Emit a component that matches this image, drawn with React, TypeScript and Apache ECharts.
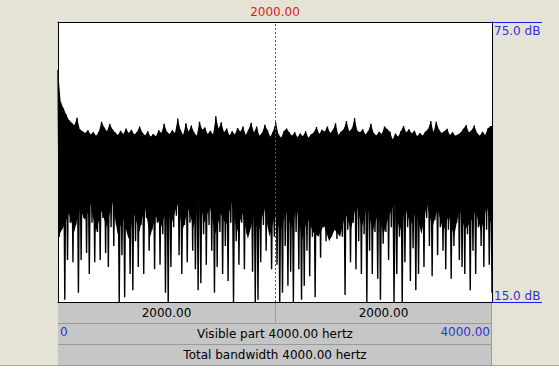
import { useEffect, useRef } from "react";
import * as echarts from "echarts";

// Spectrum: per narrow frequency bin, the peak level and the dip level (dB)
const peakDb = [
  64.7, 57.8, 56.5, 55.2, 54.0, 53.4, 52.9, 54.5, 52.0, 51.6,
  51.2, 51.8, 50.9, 51.4, 50.6, 51.5, 53.6, 52.4, 51.6, 53.2,
  52.0, 51.3, 50.8, 51.7, 51.0, 52.2, 51.2, 51.9, 50.9, 51.4,
  52.6, 51.3, 50.7, 51.6, 50.4, 51.0, 50.5, 51.8, 51.2, 53.2,
  51.5, 51.0, 51.8, 51.2, 54.3, 51.9, 50.8, 53.3, 51.5, 52.8,
  51.3, 50.6, 53.6, 51.9, 52.4, 51.0, 51.7, 50.9, 54.8, 52.1,
  53.5, 51.4, 52.2, 50.7, 51.6, 50.9, 52.3, 51.5, 52.6, 50.8,
  51.9, 53.4, 51.3, 52.6, 50.6, 51.2, 53.0, 51.8, 50.4, 51.5,
  53.5, 51.0, 50.2, 51.6, 52.2, 51.3, 50.6, 51.4, 50.3, 51.1,
  50.5, 51.6, 50.2, 50.9, 51.3, 52.5, 51.0, 51.9, 51.5, 52.6,
  51.2, 51.8, 53.3, 50.8, 51.5, 52.0, 53.8, 51.6, 52.1, 54.4,
  51.7, 51.4, 52.0, 50.9, 51.6, 53.2, 51.2, 50.7, 51.5, 51.0,
  52.6, 52.0, 51.5, 49.8, 51.1, 50.4, 51.6, 52.7, 51.3, 52.0,
  51.1, 51.7, 50.5, 51.2, 50.7, 51.5, 52.0, 53.8, 51.4, 53.6,
  51.9, 51.2, 51.6, 52.1, 50.8, 51.4, 50.6, 50.9, 51.3, 52.1,
  52.9, 51.3, 51.8, 52.8, 51.2, 50.6, 51.5, 50.8, 52.2, 52.7,
];
const dipDb = [
  29, 31, 15.5, 24, 32, 23.5, 31.5, 17, 24, 33,
  25.5, 21, 32, 23.5, 30, 24, 33, 25.5, 22.5, 31,
  27, 31.5, 15, 25, 16, 32.5, 21, 17.5, 28, 22.5,
  31.5, 21, 33, 26, 30.5, 22, 32, 23, 29.5, 17,
  15, 22.5, 31, 33.5, 25, 21, 31.5, 23.5, 32, 26,
  22, 17.5, 19, 29.5, 23, 31.5, 26, 17, 22.5, 30,
  21, 27, 19.5, 32, 15, 28, 23, 32, 22, 29.5,
  31, 21.5, 15, 15.5, 23.5, 31.5, 26, 32.5, 22, 29,
  23, 15, 17, 27, 18.5, 21.5, 15, 30, 22, 15.5,
  18.5, 26, 20.5, 29, 16, 30, 24.5, 31, 28, 32.5,
  29, 33, 28.5, 31.5, 29, 16.5, 30.5, 23.5, 32, 22,
  28, 21, 29.5, 15, 26, 21, 30, 20, 15.5, 27.5,
  30, 24, 31, 15, 21, 29, 15, 23.5, 31, 19.5,
  26.5, 17.5, 21, 32, 22.5, 33, 27, 20.5, 32.5, 25,
  31, 26, 22, 30.5, 20, 27, 32, 24, 22.5, 21,
  29.5, 17.5, 26, 21, 31, 27, 22.5, 30.5, 23, 17,
];
// Lower edge of the solid black mass, every 50 Hz (dB)
const floorDb = [
  29, 31, 34, 30, 35, 32.5, 36, 30, 34.5, 31, 36.5, 29.5, 33, 28.5, 34, 30, 35.5, 29, 33.5, 31, 35,
  32, 36, 30.5, 35, 31, 37, 32, 35.5, 29.5, 34, 31.5, 36.5, 30, 34, 28.5, 33, 30, 35, 29, 33.5,
  30, 34.5, 31, 35, 28.5, 33, 30, 29, 31.5, 28, 30.5, 29, 34, 30.5, 36, 31, 35.5, 30, 34, 29.5,
  33.5, 36, 30, 35, 31.5, 34.5, 29.5, 36, 31, 35, 30, 33.5, 29, 35, 30.5, 32, 34.5, 30, 35.5, 31,
];
const floorStepHz = 50;
const xRangeHz = [0, 4000];
const yRangeDb = [15, 75];
const xTickLabels = ["0", "4000.00"];
const yTickLabels = ["15.0 dB", "75.0 dB"];
const cursorHz = 2000;
const cursorLabel = "2000.00";
const leftPartLabel = "2000.00";
const rightPartLabel = "2000.00";
const visibleLabel = "Visible part 4000.00 hertz";
const totalLabel = "Total bandwidth 4000.00 hertz";

const FONT = "'DejaVu Sans', 'Liberation Sans', sans-serif";
const BG = "#e4e3d6";
const BAR = "#c6c6c6";
const BAR_EDGE = "#9a9a9a";
const BLUE_TEXT = "#3030d8";
const BLUE_LINE = "#1818f0";
const RED = "#e02020";

export default function App() {
  const ref = useRef<HTMLDivElement>(null);

  useEffect(() => {
    document.body.style.margin = "0";
    if (!ref.current) return;
    const chart = echarts.init(ref.current, undefined, { renderer: "svg" });

    const step = (xRangeHz[1] - xRangeHz[0]) / (peakDb.length - 0.5);
    const envelope = peakDb.map((v, i) => [xRangeHz[0] + i * step, v]);
    envelope.push([xRangeHz[1], peakDb[peakDb.length - 1]]);
    const zigzag: number[][] = [];
    peakDb.forEach((p, i) => {
      zigzag.push([xRangeHz[0] + i * step, p]);
      zigzag.push([xRangeHz[0] + (i + 0.5) * step, dipDb[i]]);
    });
    const floor = floorDb.map((v, i) => [xRangeHz[0] + i * floorStepHz, v]);

    const L = 58, T = 22, W = 434, H = 280;
    const R = L + W, B = T + H;

    const txt = (x: number, y: number, text: string, align = "center", color = "#000") => ({
      type: "text",
      z: 1,
      x,
      y,
      style: { text, fill: color, font: `12px ${FONT}`, textAlign: align, textVerticalAlign: "middle" },
    });
    const hline = (x1: number, x2: number, y: number, color: string) => ({
      type: "line",
      z: 1,
      shape: { x1, y1: y, x2, y2: y },
      style: { stroke: color, lineWidth: 1 },
    });
    const frameAxis = {
      z: 10,
      axisLine: { show: true, onZero: false, lineStyle: { color: "#000", width: 1 } },
      axisTick: { show: false },
      axisLabel: { show: false },
      splitLine: { show: false },
    };
    const cursorStyle = { color: RED, type: [2, 2], width: 1, opacity: 1 };

    chart.setOption({
      animation: false,
      backgroundColor: BG,
      textStyle: { fontFamily: FONT },
      grid: { left: L, top: T, width: W, height: H, show: true, backgroundColor: "#fff", borderWidth: 0 },
      xAxis: [
        {
          type: "value",
          position: "bottom",
          min: xRangeHz[0],
          max: xRangeHz[1],
          interval: xRangeHz[1] - xRangeHz[0],
          z: 10,
          axisLine: { show: true, onZero: false, lineStyle: { color: "#000", width: 1 } },
          axisTick: { show: false },
          splitLine: { show: false },
          axisLabel: {
            color: BLUE_TEXT,
            fontSize: 12,
            fontFamily: FONT,
            margin: 24,
            alignMinLabel: "left",
            alignMaxLabel: "right",
            padding: [0, 2, 0, 2],
            formatter: (v: number) => (v === xRangeHz[0] ? xTickLabels[0] : xTickLabels[1]),
          },
        },
        { type: "value", position: "top", min: xRangeHz[0], max: xRangeHz[1], ...frameAxis },
      ],
      yAxis: [
        {
          type: "value",
          position: "right",
          min: yRangeDb[0],
          max: yRangeDb[1],
          interval: yRangeDb[1] - yRangeDb[0],
          z: 10,
          axisLine: { show: true, onZero: false, lineStyle: { color: "#000", width: 1 } },
          axisTick: { show: true, inside: false, length: 50, lineStyle: { color: BLUE_LINE, width: 1 } },
          splitLine: { show: false },
          axisLabel: {
            color: BLUE_TEXT,
            fontSize: 12,
            fontFamily: FONT,
            margin: 2,
            padding: [3, 0, 0, 0],
            verticalAlignMinLabel: "bottom",
            verticalAlignMaxLabel: "top",
            formatter: (v: number) => (v === yRangeDb[1] ? yTickLabels[1] : yTickLabels[0]),
          },
        },
        { type: "value", position: "left", min: yRangeDb[0], max: yRangeDb[1], ...frameAxis },
      ],
      series: [
        {
          type: "line",
          name: "envelope",
          data: envelope,
          xAxisIndex: 0,
          yAxisIndex: 0,
          symbol: "none",
          z: 1,
          silent: true,
          lineStyle: { width: 0, opacity: 0 },
          areaStyle: { color: "#000", opacity: 1, origin: "start" },
        },
        {
          type: "line",
          name: "floor",
          data: floor,
          xAxisIndex: 0,
          yAxisIndex: 0,
          symbol: "none",
          z: 2,
          silent: true,
          lineStyle: { width: 0, opacity: 0 },
          areaStyle: { color: "#fff", opacity: 1, origin: "start" },
        },
        {
          type: "line",
          name: "spectrum",
          data: zigzag,
          xAxisIndex: 0,
          yAxisIndex: 0,
          symbol: "none",
          z: 3,
          silent: true,
          color: "#000",
          lineStyle: { color: "#000", width: 1.4 },
        },
        {
          type: "line",
          name: "cursor",
          data: [],
          xAxisIndex: 0,
          yAxisIndex: 0,
          z: 5,
          silent: true,
          color: RED,
          markLine: {
            silent: true,
            symbol: ["none", "none"],
            itemStyle: { color: RED },
            lineStyle: cursorStyle,
            label: {
              show: true,
              position: "end",
              formatter: cursorLabel,
              color: RED,
              fontSize: 12,
              fontFamily: FONT,
              distance: 4,
            },
            data: [{ xAxis: cursorHz, lineStyle: cursorStyle }],
          },
        },
      ],
      graphic: [
        { type: "rect", z: 0, shape: { x: 0, y: 366, width: 559, height: 8 }, style: { fill: "#fff" } },
        hline(0, 559, 365.5, "#a8a8a0"),
        { type: "rect", z: 0, shape: { x: L, y: B + 1, width: W, height: 20 }, style: { fill: BAR } },
        { type: "rect", z: 0, shape: { x: L, y: B + 22, width: W, height: 20 }, style: { fill: BAR } },
        { type: "rect", z: 0, shape: { x: L, y: B + 43, width: W, height: 20 }, style: { fill: BAR } },
        hline(L, R, B + 21.5, BAR_EDGE),
        hline(L, R, B + 42.5, BAR_EDGE),
        hline(L, R, B + 63.5, BAR_EDGE),
        {
          type: "line",
          z: 1,
          shape: { x1: L + W / 2 + 0.5, y1: B, x2: L + W / 2 + 0.5, y2: B + 21 },
          style: { stroke: BAR_EDGE, lineWidth: 1 },
        },
        {
          type: "line",
          z: 1,
          shape: { x1: R - 0.5, y1: B, x2: R - 0.5, y2: B + 64 },
          style: { stroke: BAR_EDGE, lineWidth: 1 },
        },
        txt(L + W / 4, B + 11, leftPartLabel),
        txt(L + (3 * W) / 4, B + 11, rightPartLabel),
        txt(L + W / 2, B + 32, visibleLabel),
        txt(L + W / 2, B + 53, totalLabel),
      ],
    });

    return () => chart.dispose();
  }, []);

  return <div ref={ref} style={{ width: 559, height: 373, position: "absolute", left: 0, top: 0 }} />;
}
